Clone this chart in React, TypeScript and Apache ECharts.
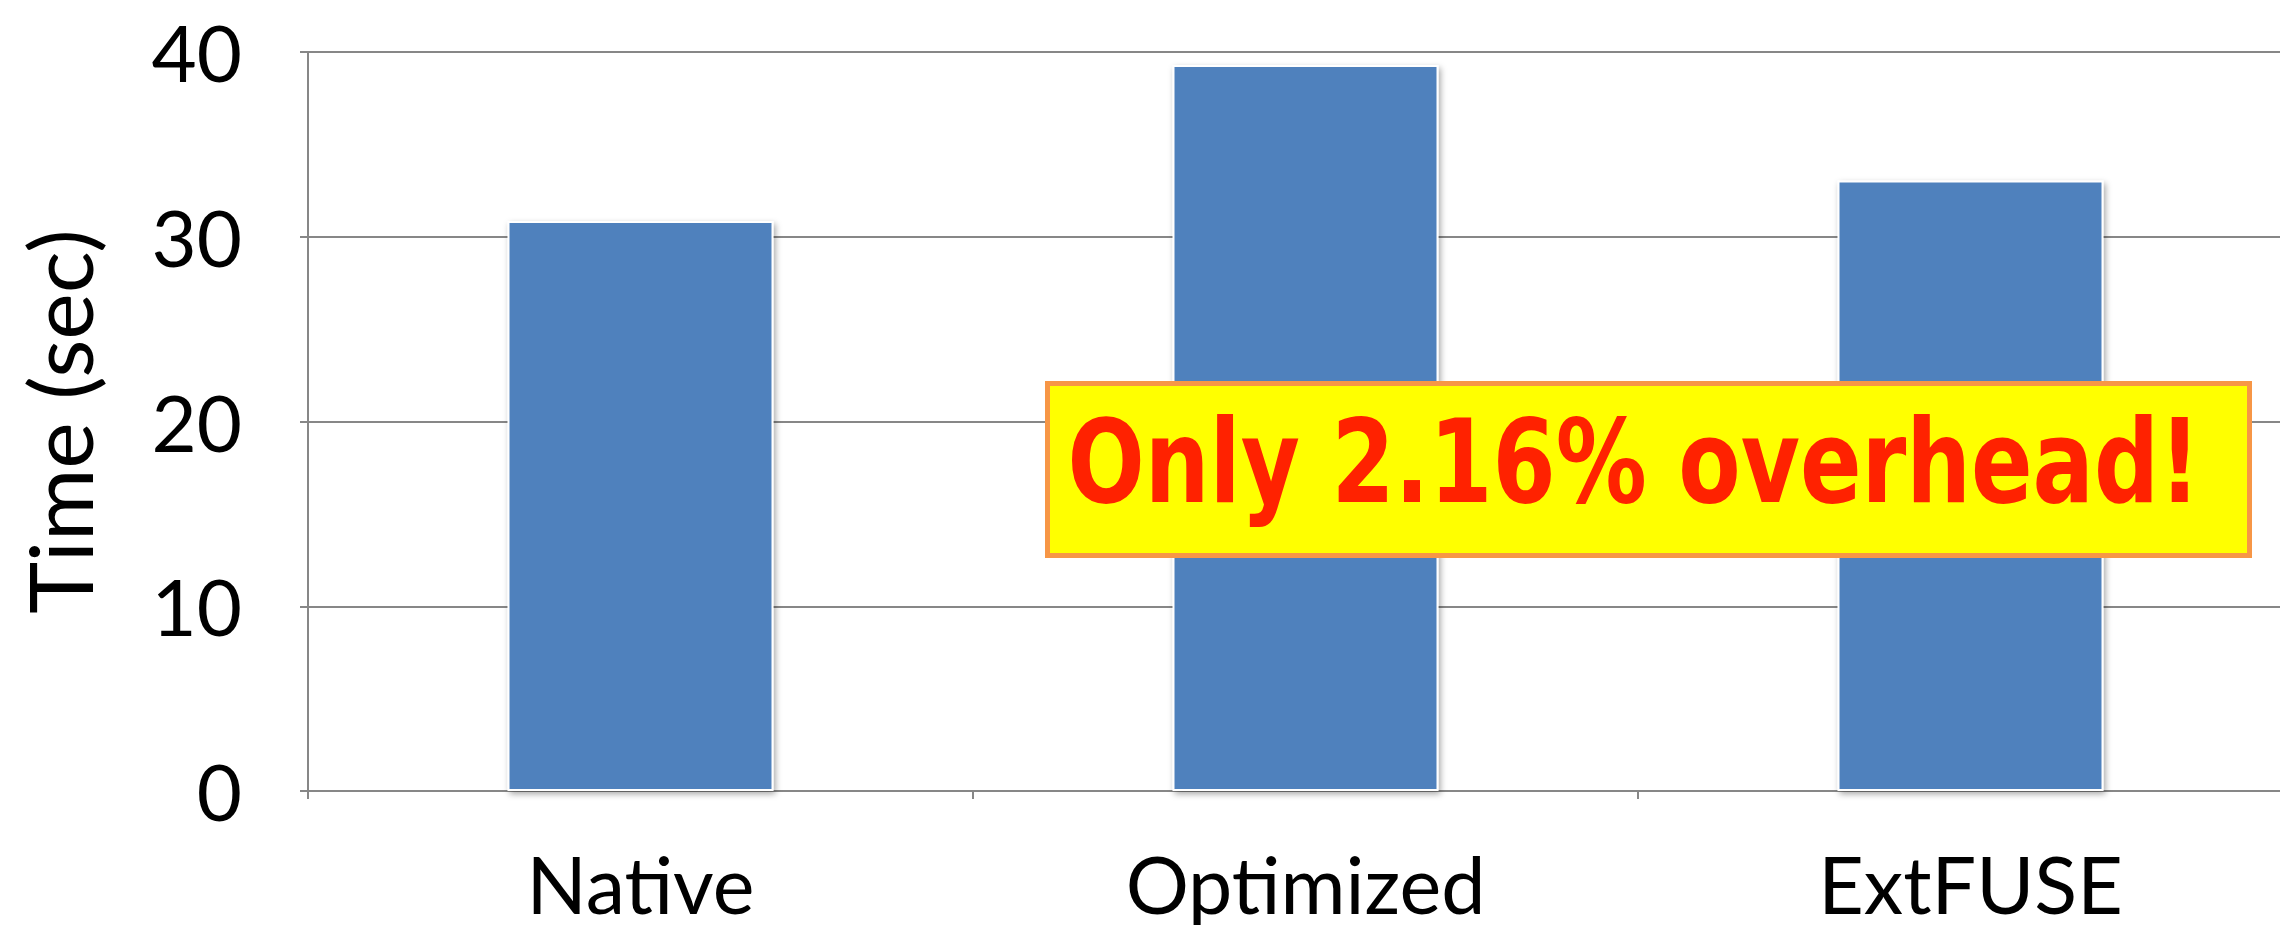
import React, { useEffect, useRef } from "react";
import * as echarts from "echarts";

const categories = ["Native", "Optimized", "ExtFUSE"];
const timeValues = [30.85, 39.3, 33.05];
const yTicks = { min: 0, max: 40, interval: 10 };
const yAxisTitle = "Time (sec)";
const annotationText = "Only 2.16% overhead!";

export default function App() {
  const ref = useRef<HTMLDivElement>(null);
  useEffect(() => {
    if (!ref.current) return;
    const chart = echarts.init(ref.current, null, { renderer: "svg" });
    const font = "Lato, 'Open Sans', sans-serif";
    chart.setOption({
      animation: false,
      backgroundColor: "#ffffff",
      grid: { left: 308, top: 52, bottom: 134, right: 0, containLabel: false },
      xAxis: {
        type: "category",
        data: categories,
        boundaryGap: true,
        axisLine: { show: true, lineStyle: { color: "#878787", width: 2 } },
        axisTick: { show: true, alignWithLabel: false, length: 8, lineStyle: { color: "#878787", width: 2 } },
        axisLabel: { color: "#000", fontSize: 79, fontFamily: font, margin: 62, lineHeight: 60 },
        splitLine: { show: false },
      },
      yAxis: {
        type: "value",
        min: yTicks.min,
        max: yTicks.max,
        interval: yTicks.interval,
        name: yAxisTitle,
        nameLocation: "middle",
        nameGap: 205,
        nameTextStyle: { color: "#000", fontSize: 88, fontFamily: font },
        axisLine: { show: true, lineStyle: { color: "#878787", width: 2 } },
        axisTick: { show: true, inside: false, length: 8, lineStyle: { color: "#878787", width: 2 } },
        axisLabel: { color: "#000", fontSize: 78, fontFamily: font, margin: 66 },
        splitLine: { show: true, lineStyle: { color: "#878787", width: 2 } },
      },
      series: [
        {
          type: "bar",
          data: timeValues,
          barWidth: "40%",
          itemStyle: {
            color: "#4F81BD",
            borderColor: "#ffffff",
            borderWidth: 2,
            shadowBlur: 6,
            shadowColor: "rgba(0,0,0,0.35)",
            shadowOffsetX: 2,
            shadowOffsetY: 3,
          },
        },
      ],
      graphic: [
        {
          type: "rect",
          left: 1045,
          top: 381,
          shape: { width: 1202, height: 172 },
          style: { fill: "#FFFF00", stroke: "#F79646", lineWidth: 5 },
          z: 100,
        },
        {
          type: "text",
          x: 1634,
          y: 462,
          scaleX: 0.79,
          style: {
            text: annotationText,
            fill: "#FF2200",
            font: "bold 115px 'DejaVu Sans', sans-serif",
            textAlign: "center",
            textVerticalAlign: "middle",
          },
          z: 101,
        },
      ],
    });
    return () => chart.dispose();
  }, []);
  return (
    <div style={{ position: "fixed", left: 0, top: 0, width: 2280, height: 925, overflow: "hidden" }}>
      <div ref={ref} style={{ position: "absolute", left: 0, top: 0, width: 2303, height: 925 }} />
    </div>
  );
}
